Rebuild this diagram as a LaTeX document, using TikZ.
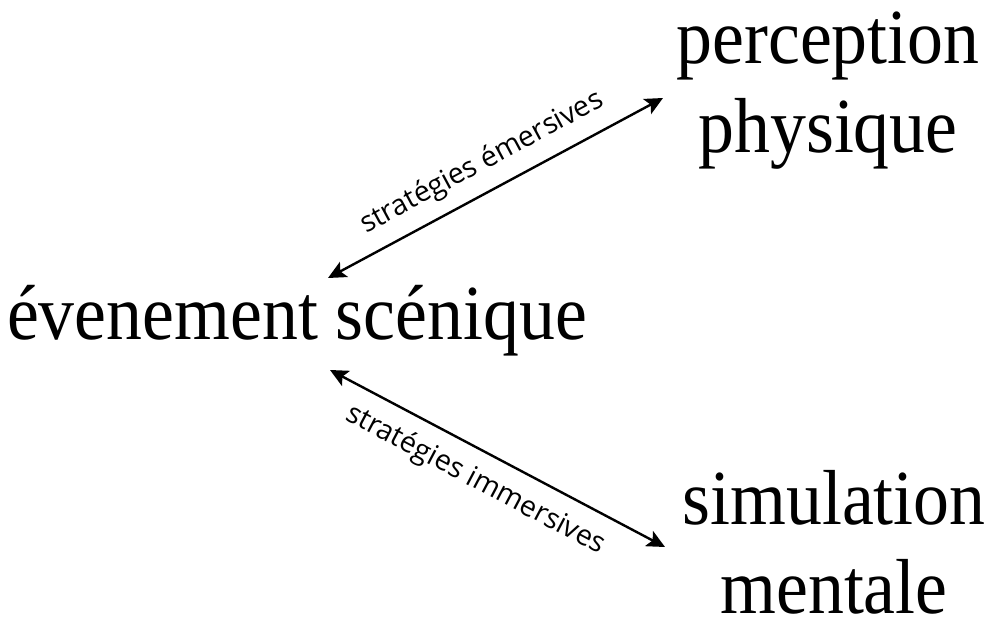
\documentclass[tikz,border=0pt]{standalone}
\usepackage{fontspec}
\setmainfont{Liberation Serif}
\newfontfamily\bigserif[FakeStretch=0.92]{Liberation Serif}
\newfontfamily\labelsans{Open Sans}
\usetikzlibrary{arrows.meta}
\begin{document}
\begin{tikzpicture}[x=1pt,y=1pt,
  bigtext/.style={font=\bigserif\fontsize{78}{89}\selectfont, inner sep=0pt, align=center, anchor=base},
  arrowline/.style={line width=2.4pt, {Stealth[length=18pt,width=17pt,inset=4pt]}-{Stealth[length=18pt,width=17pt,inset=4pt]}},
  arrowlabel/.style={font=\labelsans\fontsize{28.5}{32}\selectfont, inner sep=0pt, sloped, anchor=base}
]
\useasboundingbox (0,0) rectangle (1000,624);
\node[bigtext] (perc) at (828,471) {perception\\physique};
\node[bigtext] (even) at (297,284) {évenement scénique};
\node[bigtext] (simu) at (834,11) {simulation\\mentale};
\coordinate (a1) at (328,346);
\coordinate (b1) at (663,526);
\coordinate (a2) at (330,254);
\coordinate (b2) at (665,77);
\draw[arrowline] (a1) -- node[arrowlabel, pos=0.5, yshift=21pt] (lab1) {stratégies émersives} (b1);
\draw[arrowline] (a2) -- node[arrowlabel, pos=0.475, yshift=-37pt] (lab2) {stratégies immersives} (b2);
\end{tikzpicture}
\end{document}
